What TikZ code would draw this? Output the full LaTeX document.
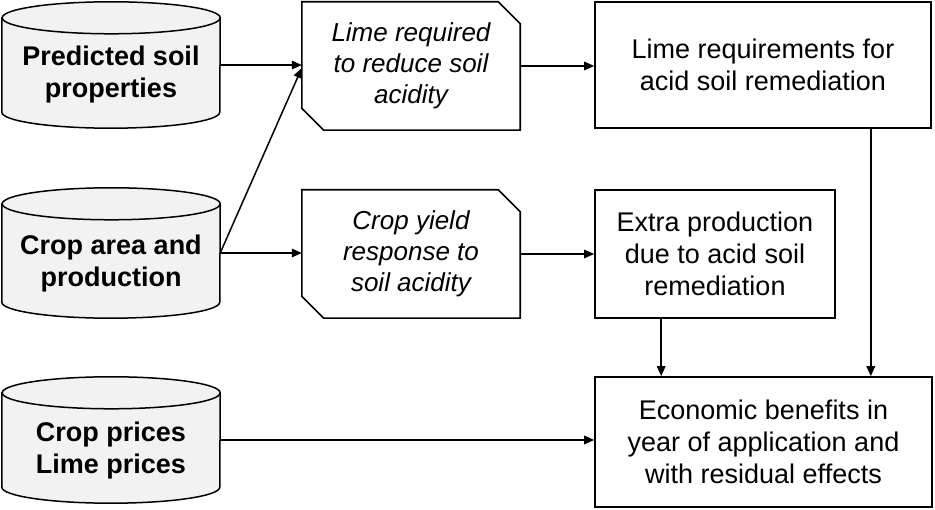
\documentclass[tikz,border=0pt]{standalone}
\usepackage{fontspec}
\setmainfont{Liberation Sans}
\usetikzlibrary{arrows.meta,backgrounds,calc}
\definecolor{cylgray}{RGB}{242,242,242}
\tikzset{
  box/.style={draw, line width=1.6pt, inner sep=0pt, align=center, font=\fontsize{27}{32}\selectfont},
  chamf/.style={inner sep=0pt, align=center, font=\fontsize{26}{31}\selectfont\itshape},
  cylbody/.style={inner sep=0pt, minimum width=218pt},
  cyltext/.style={inner sep=0pt, align=center, font=\fontsize{27}{32}\selectfont\bfseries},
  conn/.style={line width=1.5pt, -{Triangle[length=10pt,width=8.5pt]}},
  outline/.style={line width=1.6pt, line join=miter},
  cylline/.style={line width=1.5pt},
}
\newcommand{\chamfout}[1]{%
  \draw[outline] (#1.north west) -- ([xshift=-22pt]#1.north east) -- ([yshift=-22pt]#1.north east)
    -- (#1.south east) -- ([xshift=22pt]#1.south west) -- ([yshift=22pt]#1.south west) -- cycle;}
\newcommand{\cylout}[1]{%
  \begin{pgfonlayer}{background}
    \filldraw[cylline, fill=cylgray] ([yshift=-16pt]#1.north west) -- ([yshift=16pt]#1.south west)
      arc[start angle=180, end angle=360, x radius=109pt, y radius=16pt]
      -- ([yshift=-16pt]#1.north east)
      arc[start angle=0, end angle=180, x radius=109pt, y radius=16pt] -- cycle;
    \draw[cylline] ([yshift=-16pt]#1.north east)
      arc[start angle=0, end angle=-180, x radius=109pt, y radius=16pt];
  \end{pgfonlayer}}
\begin{document}
\begin{tikzpicture}[x=1pt, y=1pt]
  \useasboundingbox (0,0) rectangle (935,510);
  % data sources (cylinders)
  \node[cylbody, minimum height=126pt] (c1) at (111,445) {};
  \node[cylbody, minimum height=130pt] (c2) at (111,257) {};
  \node[cylbody, minimum height=126pt] (c3) at (111,70) {};
  \cylout{c1}\cylout{c2}\cylout{c3}
  \node[cyltext] (t1) at ([yshift=-10pt]c1.center) {Predicted soil\\properties};
  \node[cyltext] (t2) at ([yshift=-11pt]c2.center) {Crop area and\\production};
  \node[cyltext] (t3) at ([yshift=-11pt]c3.center) {Crop prices\\Lime prices};
  % models (chamfered boxes)
  \node[chamf, minimum width=218pt, minimum height=128pt] (l1) at (411,444) {Lime required\\to reduce soil\\acidity};
  \node[chamf, minimum width=218pt, minimum height=128pt] (y1) at (411,256) {Crop yield\\response to\\soil acidity};
  \chamfout{l1}\chamfout{y1}
  % outputs
  \node[box, minimum width=336pt, minimum height=126pt] (r1) at (763,445) {Lime requirements for\\acid soil remediation};
  \node[box, minimum width=240pt, minimum height=128pt] (ex) at (715,256) {Extra production\\due to acid soil\\remediation};
  \node[box, minimum width=337pt, minimum height=130pt] (ec) at (763.5,68) {Economic benefits in\\year of application and\\with residual effects};
  % connectors
  \draw[conn] (c1.east) -- (c1.east -| l1.west);
  \draw[conn] (c2.east) -- ([yshift=-2pt]l1.west);
  \draw[conn] (c2.east) -- (c2.east -| y1.west);
  \draw[conn] (l1.east) -- (l1.east -| r1.west);
  \draw[conn] (y1.east) -- (y1.east -| ex.west);
  \coordinate (r1out) at ([xshift=-61pt]r1.south east);
  \coordinate (exout) at ([xshift=67pt]ex.south west);
  \draw[conn] (r1out) -- (r1out |- ec.north);
  \draw[conn] (exout) -- (exout |- ec.north);
  \draw[conn] (c3.east) -- (c3.east -| ec.west);
\end{tikzpicture}
\end{document}
